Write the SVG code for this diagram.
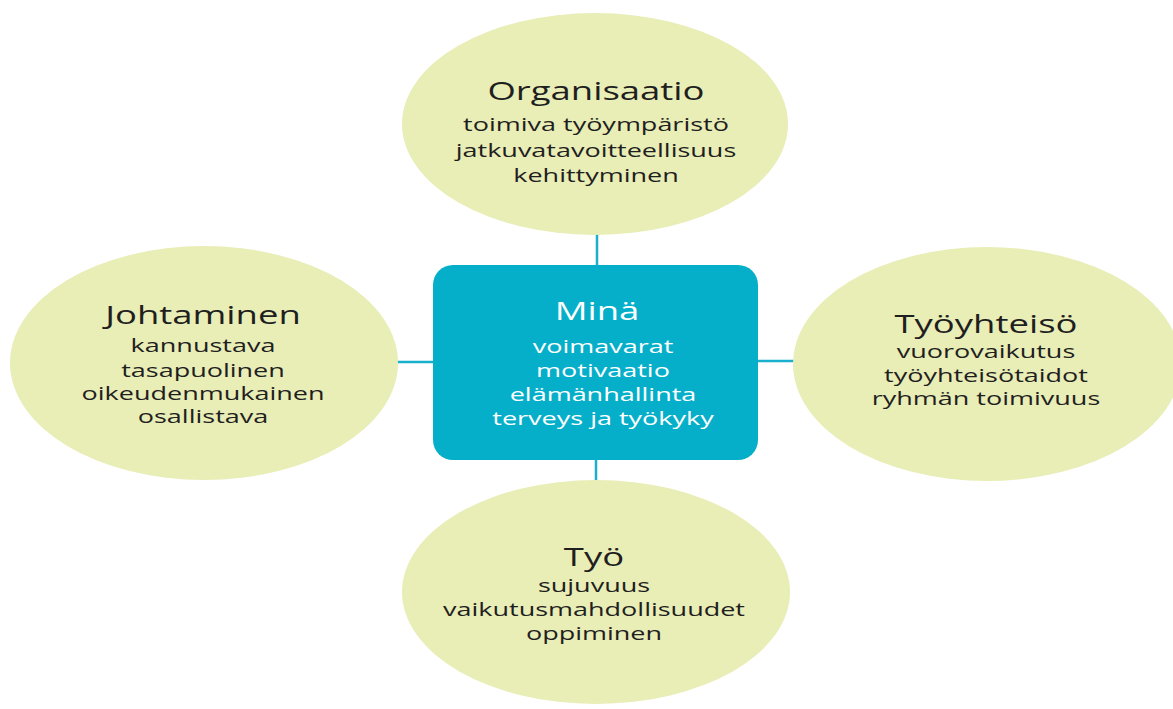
<svg xmlns="http://www.w3.org/2000/svg" width="1173" height="709" viewBox="0 0 1173 709">
<style>
.ell{fill:#E9EDB6;}
.box{fill:#06AFC9;}
.con{stroke:#1AAFCC;stroke-width:2.5;fill:none;}
.t{font-family:"Open Sans","Noto Sans",sans-serif;text-anchor:middle;fill:#1F1F1F;}
.h{font-size:25px;}
.s{font-size:18.5px;}
.w{fill:#FFFFFF;}
</style>
<rect width="1173" height="709" fill="#FFFFFF"/>
<g id="connectors">
<line class="con" x1="597" y1="234" x2="597" y2="266"/>
<line class="con" x1="397" y1="362" x2="434" y2="362"/>
<line class="con" x1="757" y1="361" x2="794" y2="361"/>
<line class="con" x1="596" y1="459" x2="596" y2="481"/>
</g>
<g id="organisaatio">
<ellipse class="ell" cx="595" cy="124" rx="193" ry="111"/>
<g transform="translate(596 0) scale(1.46 1)">
<text class="t h" x="0" y="100">Organisaatio</text>
<text class="t s" x="0" y="131">toimiva työympäristö</text>
<text class="t s" x="0" y="157">jatkuvatavoitteellisuus</text>
<text class="t s" x="0" y="182">kehittyminen</text>
</g>
</g>
<g id="johtaminen">
<ellipse class="ell" cx="204" cy="363" rx="194" ry="117"/>
<g transform="translate(203 0) scale(1.46 1)">
<text class="t h" x="0" y="324">Johtaminen</text>
<text class="t s" x="0" y="352">kannustava</text>
<text class="t s" x="0" y="377">tasapuolinen</text>
<text class="t s" x="0" y="400">oikeudenmukainen</text>
<text class="t s" x="0" y="423">osallistava</text>
</g>
</g>
<g id="tyoyhteiso">
<ellipse class="ell" cx="987" cy="364" rx="194" ry="117"/>
<g transform="translate(986 0) scale(1.46 1)">
<text class="t h" x="0" y="333">Työyhteisö</text>
<text class="t s" x="0" y="358">vuorovaikutus</text>
<text class="t s" x="0" y="382">työyhteisötaidot</text>
<text class="t s" x="0" y="405">ryhmän toimivuus</text>
</g>
</g>
<g id="tyo">
<ellipse class="ell" cx="596" cy="592" rx="194" ry="112"/>
<g transform="translate(594 0) scale(1.46 1)">
<text class="t h" x="0" y="566">Työ</text>
<text class="t s" x="0" y="592">sujuvuus</text>
<text class="t s" x="0" y="616">vaikutusmahdollisuudet</text>
<text class="t s" x="0" y="640">oppiminen</text>
</g>
</g>
<g id="mina">
<rect class="box" x="433" y="265" width="325" height="195" rx="20" ry="20"/>
<g transform="translate(597 0) scale(1.46 1)">
<text class="t h w" x="0" y="320">Minä</text>
</g>
<g transform="translate(603 0) scale(1.46 1)">
<text class="t s w" x="0" y="353">voimavarat</text>
<text class="t s w" x="0" y="377">motivaatio</text>
<text class="t s w" x="0" y="401">elämänhallinta</text>
<text class="t s w" x="0" y="425">terveys ja työkyky</text>
</g>
</g>
</svg>
